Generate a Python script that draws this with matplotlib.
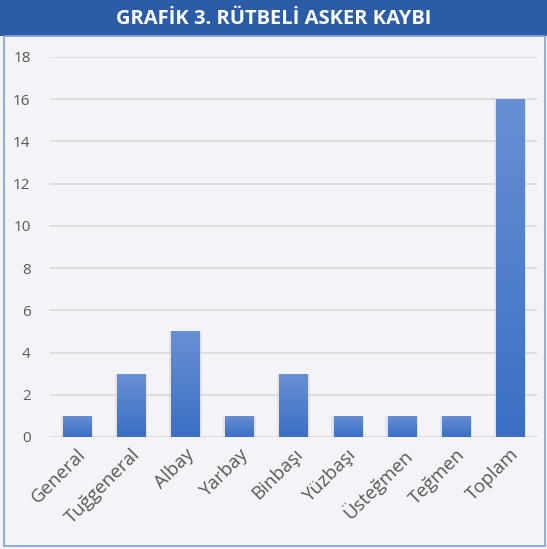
import matplotlib.pyplot as plt
import matplotlib.patches as patches
import numpy as np

ranks = ['General', 'Tuğgeneral', 'Albay', 'Yarbay', 'Binbaşı', 'Yüzbaşı',
         'Üsteğmen', 'Teğmen', 'Toplam']
losses = [1, 3, 5, 1, 3, 1, 1, 1, 16]
yticks = [0, 2, 4, 6, 8, 10, 12, 14, 16, 18]

W, H = 547, 549
fig = plt.figure(figsize=(W / 100, H / 100), dpi=100)
fig.patch.set_facecolor('#f4f4f8')

# title banner
fig.patches.append(patches.Rectangle((0, 1 - 36 / H), 1, 36 / H, transform=fig.transFigure,
                                     facecolor='#2b5ca8', edgecolor='none', zorder=0))
fig.text(0.5, 1 - 19 / H, 'GRAFİK 3. RÜTBELİ ASKER KAYBI', color='white', fontsize=14.5,
         fontweight='bold', family='Open Sans', ha='center', va='center')
# frame
fig.patches.append(patches.Rectangle((4 / W, 3 / H), (W - 6) / W, (H - 39) / H,
                                     transform=fig.transFigure, facecolor='none',
                                     edgecolor='#7f9fd6', linewidth=1.2, zorder=0))

ax = fig.add_axes([50 / W, (H - 437) / H, (537 - 50) / W, (437 - 57) / H])
ax.set_facecolor('#f4f4f8')
x = np.arange(len(ranks))

# soft shadow behind bars
ax.bar(x, losses, width=0.6, color='#d4d4da', alpha=0.5, zorder=2)
bars = ax.bar(x, losses, width=0.52, color='#4a7bcb', zorder=3)

# vertical gradient inside each bar
cmap = plt.matplotlib.colors.LinearSegmentedColormap.from_list('g', ['#3a6fc4', '#6890d4'])
grad = np.linspace(0, 1, 256).reshape(-1, 1)
for b in bars:
    im = ax.imshow(grad, extent=[b.get_x(), b.get_x() + b.get_width(), 0, b.get_height()],
                   aspect='auto', cmap=cmap, origin='lower', zorder=4)
    im.set_clip_path(b)

ax.set_xlim(-0.5, len(ranks) - 0.5)
ax.set_ylim(0, 18)
ax.set_yticks(yticks)
ax.grid(axis='y', color='#d9d9d9', linewidth=1.2, zorder=1)
for s in ax.spines.values():
    s.set_visible(False)
ax.tick_params(length=0, colors='#595959', labelsize=11)
ax.tick_params(axis='y', pad=14)
ax.tick_params(axis='x', pad=6)
ax.set_xticks(x)
ax.set_xticklabels(ranks, rotation=45, ha='right', rotation_mode='anchor', fontsize=13.5,
                   family='Open Sans')
for lab in ax.get_yticklabels():
    lab.set_family('Open Sans')

fig.savefig('out.png', dpi=100, facecolor=fig.get_facecolor())
